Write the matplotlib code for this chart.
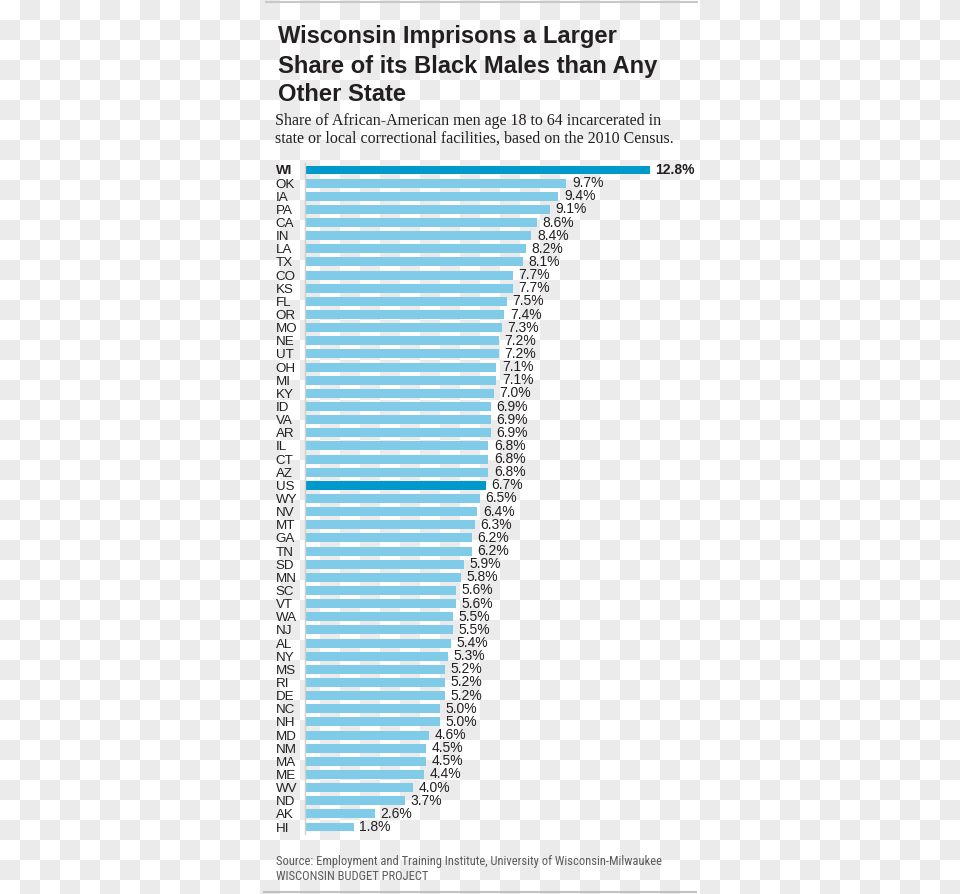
import numpy as np
import matplotlib.pyplot as plt
from matplotlib import font_manager
from matplotlib.colors import ListedColormap

# data
states = ['WI', 'OK', 'IA', 'PA', 'CA', 'IN', 'LA', 'TX', 'CO', 'KS', 'FL', 'OR',
          'MO', 'NE', 'UT', 'OH', 'MI', 'KY', 'ID', 'VA', 'AR', 'IL', 'CT', 'AZ',
          'US', 'WY', 'NV', 'MT', 'GA', 'TN', 'SD', 'MN', 'SC', 'VT', 'WA', 'NJ',
          'AL', 'NY', 'MS', 'RI', 'DE', 'NC', 'NH', 'MD', 'NM', 'MA', 'ME', 'WV',
          'ND', 'AK', 'HI']
shares = [12.8, 9.7, 9.4, 9.1, 8.6, 8.4, 8.2, 8.1, 7.7, 7.7, 7.5, 7.4,
          7.3, 7.2, 7.2, 7.1, 7.1, 7.0, 6.9, 6.9, 6.9, 6.8, 6.8, 6.8,
          6.7, 6.5, 6.4, 6.3, 6.2, 6.2, 5.9, 5.8, 5.6, 5.6, 5.5, 5.5,
          5.4, 5.3, 5.2, 5.2, 5.2, 5.0, 5.0, 4.6, 4.5, 4.5, 4.4, 4.0,
          3.7, 2.6, 1.8]
highlight = ['WI', 'US']

title_lines = ['Wisconsin Imprisons a Larger',
               'Share of its Black Males than Any',
               'Other State']
subtitle_lines = ['Share of African-American men age 18 to 64 incarcerated in',
                  'state or local correctional facilities, based on the 2010 Census.']
source_lines = ['Source: Employment and Training Institute, University of Wisconsin-Milwaukee',
                'WISCONSIN BUDGET PROJECT']

DARK = '#0099cc'
LIGHT = '#80cbe7'
TXT = '#231f20'

W, H = 960, 894
fig = plt.figure(figsize=(W / 100, H / 100), dpi=100)

# checkerboard backdrop (transparent png look)
bg = fig.add_axes([0, 0, 1, 1])
checker = np.indices((45, 48)).sum(axis=0) % 2
bg.imshow(checker, cmap=ListedColormap(['white', '#ebebeb']),
          extent=(0, 960, 900, 0), interpolation='nearest', aspect='auto')
bg.set_xlim(0, W)
bg.set_ylim(H, 0)
bg.axis('off')
# top / bottom rules
bg.plot([265, 698], [2, 2], color='#c8c8c8', lw=1.5, solid_capstyle='butt')
bg.plot([263, 697], [892, 892], color='#c0c0c0', lw=1.5, solid_capstyle='butt')


def px(x, y):
    return x / W, 1 - y / H


# condensed face for the source note, if one is around
names = {f.name for f in font_manager.fontManager.ttflist}
narrow, src_size = 'Liberation Sans', 8.0
for cand in ['Liberation Sans Narrow', 'Roboto Condensed']:
    if cand in names:
        narrow, src_size = cand, 9.0
        break

for line, yb in zip(title_lines, [43.5, 72.5, 101]):
    fig.text(*px(278, yb), line, family='Liberation Sans', weight='bold',
             fontsize=17.1, color=TXT, va='baseline')
for line, yb in zip(subtitle_lines, [125, 142.7]):
    fig.text(*px(275, yb), line, family='Liberation Serif',
             fontsize=11.5, color=TXT, va='baseline')
for line, yb in zip(source_lines, [865, 879.5]):
    fig.text(*px(275.5, yb), line, family=narrow,
             fontsize=src_size, color='#5a5a5a', va='baseline')

# bar chart
top, bottom = 163.4, 833.6
ax = fig.add_axes([305 / W, 1 - bottom / H, (697 - 305) / W, (bottom - top) / H])
ax.patch.set_alpha(0)
y = np.arange(len(states))
colors = [DARK if s in highlight else LIGHT for s in states]
ax.barh(y, shares, height=0.68, color=colors, zorder=2)
ax.set_xlim(0, (697 - 305) / 26.95)
ax.set_ylim(len(states) - 0.5, -0.5)

for yi, v, s in zip(y, shares, states):
    ax.annotate(f'{v:.1f}%', (v, yi), xytext=(4, 0), textcoords='offset points',
                va='center', ha='left', fontsize=10, color=TXT,
                family='Liberation Sans', weight='bold' if s == 'WI' else 'normal')

ax.set_yticks(y, states)
ax.tick_params(axis='y', length=0, pad=21, labelsize=9.6, labelcolor=TXT)
for lab in ax.get_yticklabels():
    lab.set_horizontalalignment('left')
    lab.set_family('Liberation Sans')
    if lab.get_text() == 'WI':
        lab.set_weight('bold')
ax.set_xticks([])
for side in ['top', 'right', 'bottom']:
    ax.spines[side].set_visible(False)
ax.spines['left'].set_color('#cfcfcf')
ax.spines['left'].set_linewidth(1)

fig.savefig('out.png', dpi=100)
